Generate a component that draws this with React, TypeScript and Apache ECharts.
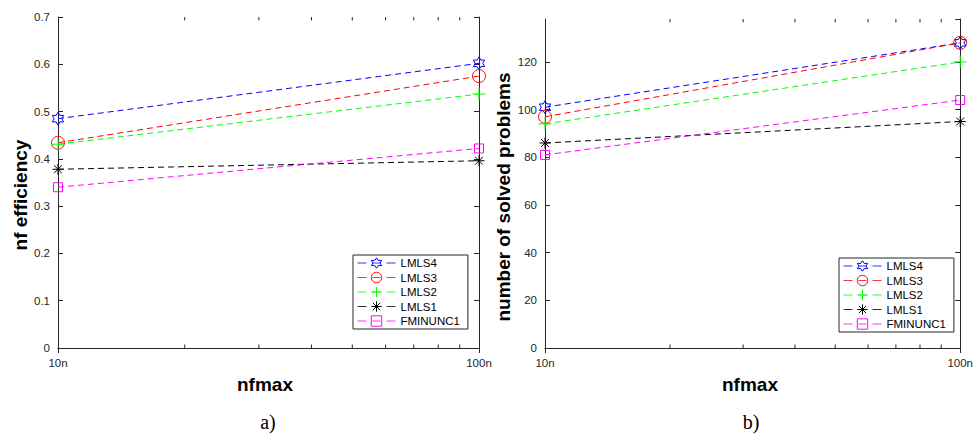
import React, { useEffect, useRef } from "react";
import * as echarts from "echarts";

// ---- data ----
const nfmaxValues = [10, 100]; // nfmax = 10n, 100n
const minorTickValues = [20, 30, 40, 50, 60, 70, 80, 90];
const seriesNames = ["LMLS4", "LMLS3", "LMLS2", "LMLS1", "FMINUNC1"];

const effLMLS4 = [0.485, 0.602];
const effLMLS3 = [0.434, 0.575];
const effLMLS2 = [0.431, 0.537];
const effLMLS1 = [0.378, 0.396];
const effFMINUNC1 = [0.34, 0.422];

const solvedLMLS4 = [101, 128];
const solvedLMLS3 = [97, 128];
const solvedLMLS2 = [94, 120];
const solvedLMLS1 = [86, 95];
const solvedFMINUNC1 = [81, 104];

const effData = [effLMLS4, effLMLS3, effLMLS2, effLMLS1, effFMINUNC1];
const solvedData = [solvedLMLS4, solvedLMLS3, solvedLMLS2, solvedLMLS1, solvedFMINUNC1];

// ---- styles ----
const colors = ["#0000ff", "#ff0000", "#00ff00", "#000000", "#ff00ff"];
const HEX =
  "path://M50 0 L64.43 25 L93.3 25 L78.87 50 L93.3 75 L64.43 75 L50 100 L35.57 75 L6.7 75 L21.13 50 L6.7 25 L35.57 25 Z";
const PLUS = "path://M50 0 L50 100 M0 50 L100 50";
const STAR =
  "path://M50 0 L50 100 M0 50 L100 50 M14.6 14.6 L85.4 85.4 M85.4 14.6 L14.6 85.4";
const symbols = [HEX, "circle", PLUS, STAR, "rect"];
const symbolSizes = [13, 13, 13, 11, 9];

const AX = "#262626";
const FONT = "'Liberation Sans', Arial, Helvetica, sans-serif";

export default function App() {
  const ref = useRef<HTMLDivElement>(null);

  useEffect(() => {
    if (!ref.current) return;
    const chart = echarts.init(ref.current, undefined, { renderer: "svg" });

    const grids = [
      { left: 58, top: 17, width: 421, height: 331 },
      { left: 545, top: 19, width: 418, height: 329 },
    ];

    const xAxes: any[] = [];
    const yAxes: any[] = [];
    const yConf = [
      { min: 0, max: 0.7, interval: 0.1, fmt: (v: number) => (v === 0 ? "0" : v.toFixed(1)) },
      { min: 0, max: 138, interval: 20, fmt: (v: number) => String(Math.round(v)) },
    ];

    grids.forEach((_, gi) => {
      for (const pos of ["bottom", "top"]) {
        xAxes.push({
          type: "log",
          logBase: 10,
          gridIndex: gi,
          position: pos,
          min: 10,
          max: 100,
          axisLine: { show: true, lineStyle: { color: AX, width: 1 } },
          axisTick: { show: true, inside: true, length: 5, lineStyle: { color: AX } },
          axisLabel: {
            show: pos === "bottom",
            margin: 9,
            color: AX,
            fontFamily: FONT,
            fontSize: 11.5,
            formatter: (v: number) => `${Math.round(v)}n`,
          },
          splitLine: { show: false },
          minorTick: { show: false },
        });
      }
      const yc = yConf[gi];
      for (const pos of ["left", "right"]) {
        yAxes.push({
          type: "value",
          gridIndex: gi,
          position: pos,
          min: yc.min,
          max: yc.max,
          interval: yc.interval,
          axisLine: { show: true, lineStyle: { color: AX, width: 1 } },
          axisTick: { show: true, inside: true, length: 5, lineStyle: { color: AX } },
          axisLabel: {
            show: pos === "left",
            margin: 8,
            color: AX,
            fontFamily: FONT,
            fontSize: 11.5,
            showMaxLabel: gi === 0,
            formatter: yc.fmt,
          },
          splitLine: { show: false },
        });
      }
    });

    const series: any[] = [];
    [effData, solvedData].forEach((dataSet, gi) => {
      dataSet.forEach((vals, si) => {
        series.push({
          type: "line",
          name: seriesNames[si],
          xAxisIndex: gi * 2,
          yAxisIndex: gi * 2,
          data: nfmaxValues.map((x, i) => [x, vals[i]]),
          symbol: symbols[si],
          symbolSize: symbolSizes[si],
          symbolKeepAspect: true,
          showSymbol: true,
          clip: false,
          lineStyle: { color: colors[si], width: 1, type: [6, 4] },
          itemStyle: { color: "rgba(0,0,0,0)", borderColor: colors[si], borderWidth: 1 },
          emphasis: { disabled: true },
          z: 3,
        });
      });
      // minor log ticks (20n..90n) on bottom and top axes
      series.push({
        type: "custom",
        xAxisIndex: gi * 2,
        yAxisIndex: gi * 2,
        silent: true,
        clip: false,
        data: minorTickValues.map((v) => [v, yConf[gi].min]),
        renderItem: (params: any, api: any) => {
          const p = api.coord([api.value(0), api.value(1)]);
          const cs = params.coordSys;
          const st = { stroke: AX, lineWidth: 1 };
          return {
            type: "group",
            children: [
              { type: "line", shape: { x1: p[0], y1: cs.y + cs.height, x2: p[0], y2: cs.y + cs.height - 3.5 }, style: st },
              { type: "line", shape: { x1: p[0], y1: cs.y, x2: p[0], y2: cs.y + 3.5 }, style: st },
            ],
          };
        },
      });
    });

    const legendBase = {
      orient: "vertical",
      data: seriesNames,
      itemWidth: 38,
      itemHeight: 13,
      itemGap: 2.5,
      padding: [2, 8, 2, 4],
      backgroundColor: "#ffffff",
      borderColor: AX,
      borderWidth: 1,
      borderRadius: 0,
      selectedMode: false,
      itemStyle: { borderWidth: 1, color: "rgba(0,0,0,0)" },
      lineStyle: { width: 1, type: [9, 6, 8, 6], opacity: 0.8 },
      textStyle: { color: "#000", fontFamily: FONT, fontSize: 11.5 },
    };

    const titleStyle = { fill: "#000", font: `bold 19px ${FONT}`, textAlign: "center", textVerticalAlign: "middle" };
    const capStyle = { fill: "#000", font: `20px 'Liberation Serif', 'DejaVu Serif', serif`, textAlign: "center", textVerticalAlign: "middle" };

    chart.setOption({
      animation: false,
      backgroundColor: "#ffffff",
      grid: grids.map((g) => ({ ...g, show: false, containLabel: false })),
      xAxis: xAxes,
      yAxis: yAxes,
      legend: [
        { ...legendBase, left: 353, top: 255 },
        { ...legendBase, left: 839, top: 258 },
      ],
      graphic: [
        { type: "text", x: 20, y: 195, rotation: Math.PI / 2, style: { ...titleStyle, text: "nf efficiency" } },
        { type: "text", x: 503, y: 197, rotation: Math.PI / 2, style: { ...titleStyle, text: "number of solved problems" } },
        { type: "text", x: 265, y: 384, style: { ...titleStyle, text: "nfmax" } },
        { type: "text", x: 750, y: 384, style: { ...titleStyle, text: "nfmax" } },
        { type: "text", x: 268, y: 422, style: { ...capStyle, text: "a)" } },
        { type: "text", x: 751, y: 422, style: { ...capStyle, text: "b)" } },
      ],
      series,
    });

    return () => chart.dispose();
  }, []);

  return (
    <div
      ref={ref}
      style={{ position: "fixed", left: 0, top: 0, width: 976, height: 435, background: "#fff" }}
    />
  );
}
